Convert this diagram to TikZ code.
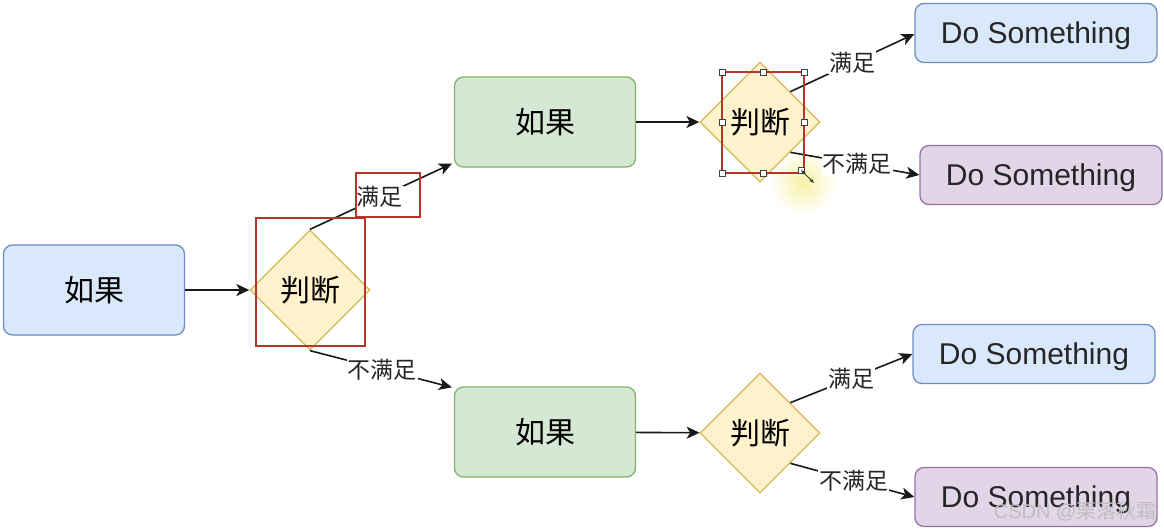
\documentclass[tikz,border=0pt]{standalone}
\usepackage{fontspec}
\setmainfont{Liberation Sans}
\newfontfamily\cjk{Noto Sans CJK SC}
\usetikzlibrary{shapes.geometric,arrows.meta,calc}
\definecolor{bfill}{HTML}{DAE8FC}\definecolor{bline}{HTML}{6C8EBF}
\definecolor{gfill}{HTML}{D5E8D4}\definecolor{gline}{HTML}{82B366}
\definecolor{pfill}{HTML}{E1D5E7}\definecolor{pline}{HTML}{9673A6}
\definecolor{yfill}{HTML}{FFF2CC}\definecolor{yline}{HTML}{D6B656}
\definecolor{selred}{HTML}{B8342A}
\definecolor{glow}{HTML}{F8F0A0}
\tikzset{
  rbox/.style={draw, line width=1.3pt, rounded corners=9pt, inner sep=0pt},
  ifbox/.style={rbox, minimum width=181pt, minimum height=90pt, font=\cjk\fontsize{30}{30}\selectfont},
  dobox/.style={rbox, minimum width=242pt, minimum height=59pt, text height=21.5pt, text depth=0pt, font=\fontsize{30}{30}\selectfont, text=black!85},
  judge/.style={diamond, aspect=1, draw=yline, fill=yfill, line width=1.3pt, minimum width=120pt, minimum height=120pt, inner sep=0pt, font=\cjk\fontsize{30}{30}\selectfont},
  conn/.style={draw=black!90, line width=1.6pt, -{Stealth[length=13pt,width=12pt,inset=3.5pt]}},
  lbl/.style={fill=white, inner sep=1pt, font=\cjk\fontsize{23}{23}\selectfont, text=black!85},
  selbox/.style={draw=selred, line width=1.6pt},
  handle/.style={draw=black!75, fill=white, line width=0.8pt, minimum size=6pt, inner sep=0pt, rectangle}
}
\begin{document}
\begin{tikzpicture}[x=1pt,y=-1pt]
\useasboundingbox[fill=white] (0,0) rectangle (1164,531);

% yellow cursor highlight
\shade[inner color=glow, outer color=white, opacity=0.95] (803,182) circle (33);

% nodes
\node[ifbox, draw=bline, fill=bfill] (a) at (94,290) {如果};
\node[judge] (d1) at (310,290) {判断};
\node[ifbox, draw=gline, fill=gfill] (g1) at (545,122) {如果};
\node[ifbox, draw=gline, fill=gfill] (g2) at (545,432) {如果};
\node[judge] (d2) at (760,122) {判断};
\node[judge] (d3) at (760,433) {判断};
\node[dobox, draw=bline, fill=bfill] (s1) at (1036,33) {Do Something};
\node[dobox, draw=pline, fill=pfill] (s2) at (1041,175) {Do Something};
\node[dobox, draw=bline, fill=bfill] (s3) at (1034,354) {Do Something};
\node[dobox, draw=pline, fill=pfill] (s4) at (1036,497) {Do Something};

% connector end points
\coordinate (e1) at ([xshift=-2pt,yshift=4pt]g1.south west);
\coordinate (e2) at ([xshift=-2pt,yshift=-1pt]g2.north west);

% connectors
\draw[conn] (a) -- (d1);
\draw[conn] (g1) -- (d2);
\draw[conn] (g2) -- (d3);
\draw[conn] (d1.north) -- node[lbl, pos=0.49] (l1) {满足} (e1);
\draw[conn] (d1.south) -- node[lbl, pos=0.51] (l2) {不满足} (e2);
\draw[conn] (d2.north east) -- node[lbl, pos=0.5] (l3) {满足} ([yshift=-1pt]s1.west);
\draw[conn] (d2.south east) -- node[lbl, pos=0.52] (l4) {不满足} (s2.west);
\draw[conn] (d3.north east) -- node[lbl, pos=0.5] (l5) {满足} (s3.west);
\draw[conn] (d3.south east) -- node[lbl, pos=0.51] (l6) {不满足} (s4.west);

% selection rectangles
\draw[selbox] (256,218) rectangle (365,346);
\draw[selbox] (356,173) rectangle (420,217);
\draw[selbox] (722,72) rectangle (804,173);
\foreach \p [count=\i] in {(722,72),(763,72),(804,72),(722,122),(804,122),(722,173),(763,173),(801,170)}
  \node[handle] (h\i) at \p {};
\draw[black!80, line width=1pt, {Stealth[length=5pt]}-{Stealth[length=5pt]}] (801,170) -- (814,183);

% watermark
\node[anchor=east, text=black!25, font=\fontsize{20}{20}\selectfont] (wm) at (1160,511) {CSDN @{\cjk 栗落秋霜}};
\end{tikzpicture}
\end{document}
